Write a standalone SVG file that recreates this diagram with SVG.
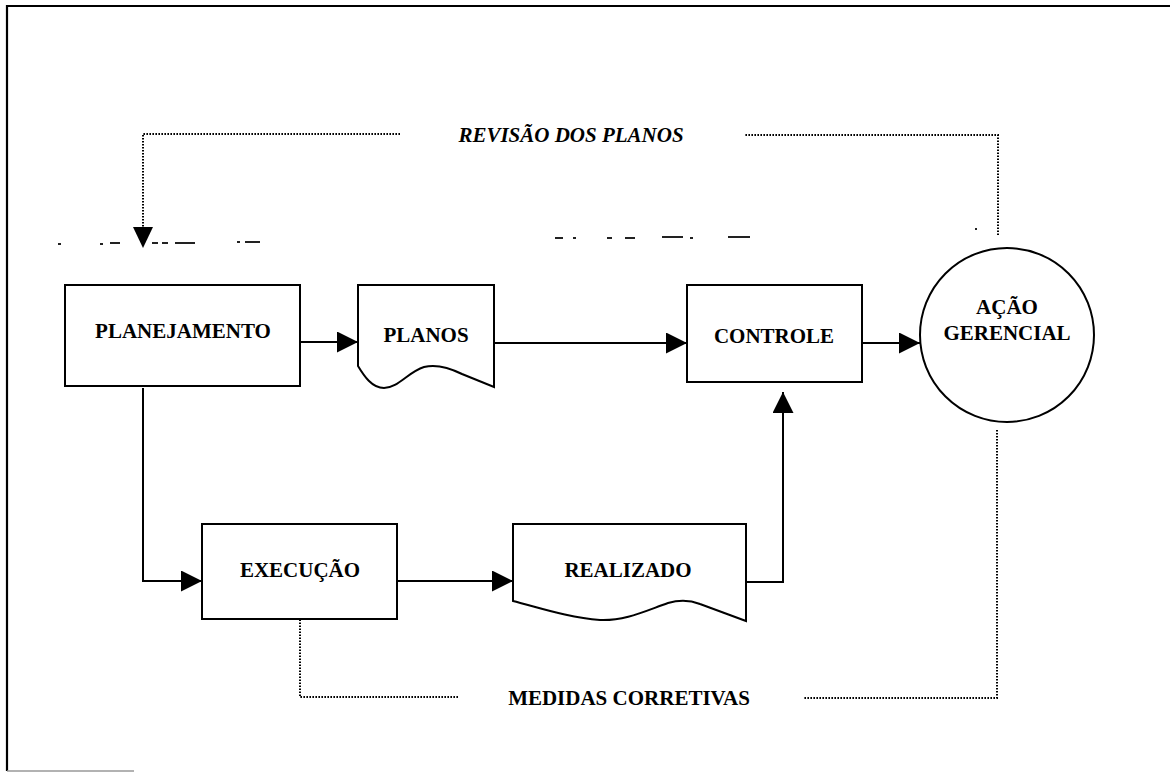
<svg xmlns="http://www.w3.org/2000/svg" width="1170" height="772" viewBox="0 0 1170 772">
  <style>
    .box { fill: #fff; stroke: #000; stroke-width: 2; }
    .lbl { font-family: "Liberation Serif", "Times New Roman", serif; font-weight: bold; font-size: 21px; fill: #000; text-anchor: middle; }
    .it { font-style: italic; }
    .flow { fill: none; stroke: #000; stroke-width: 2; }
    .dot { fill: none; stroke: #000; stroke-width: 2; stroke-dasharray: 1.6 1.4; }
    .faint { fill: none; stroke: #222; stroke-width: 2; }
  </style>
  <defs>
    <marker id="arrow" markerUnits="userSpaceOnUse" markerWidth="21" markerHeight="21" refX="21" refY="10.5" orient="auto">
      <path d="M0,0 L21,10.5 L0,21 Z" fill="#000"/>
    </marker>
  </defs>

  <rect width="1170" height="772" fill="#fff"/>

  <!-- frame -->
  <g id="frame">
    <path d="M7,771 V6 H1170" fill="none" stroke="#000" stroke-width="2.2"/>
    <path d="M7,771 H134" fill="none" stroke="#999" stroke-width="1.5"/>
  </g>

  <!-- broken guide line under the revision loop -->
  <g id="guide" class="faint">
    <path d="M58,244 h3 M100,244 h3 M110,243 h10 M152,243 h6 M162,243 h6 M175,243 h20 M237,242 h3 M245,242 h15"/>
    <path d="M555,238 h8 M573,238 h3 M607,238 h5 M625,238 h10 M662,237 h21 M690,238 h3 M728,237 h22 M975,229 h2"/>
  </g>

  <!-- connectors -->
  <g id="connectors">
    <path class="flow" d="M300,342 H358" marker-end="url(#arrow)"/>
    <path class="flow" d="M494,343 H687" marker-end="url(#arrow)"/>
    <path class="flow" d="M862,343 H920" marker-end="url(#arrow)"/>
    <path class="flow" d="M143,388 V581 H202" marker-end="url(#arrow)"/>
    <path class="flow" d="M397,581 H513" marker-end="url(#arrow)"/>
    <path class="flow" d="M746,582 H783 V392" marker-end="url(#arrow)"/>
    <!-- revision loop -->
    <path class="dot" d="M998,235 V135 H745"/>
    <path class="dot" d="M400,134 H143 V228"/>
    <path d="M133,227 L153,227 L143,248 Z" fill="#000"/>
    <!-- corrective measures loop -->
    <path class="dot" d="M997,430 V698 H803"/>
    <path class="dot" d="M458,697 H300 V620"/>
  </g>

  <!-- loop labels -->
  <g id="label-revisao">
    <text class="lbl it" x="571" y="142">REVISÃO DOS PLANOS</text>
  </g>
  <g id="label-medidas">
    <text class="lbl" x="629" y="705">MEDIDAS CORRETIVAS</text>
  </g>

  <g id="planejamento">
    <rect class="box" x="65" y="285" width="235" height="101"/>
    <text class="lbl" x="183" y="338">PLANEJAMENTO</text>
  </g>

  <g id="planos">
    <path class="box" d="M358,285 H494 V387 L462,374 C448,367 436,364 424,367 C408,372 398,388 384,388 C372,388 364,376 358,366 Z"/>
    <text class="lbl" x="426" y="342">PLANOS</text>
  </g>

  <g id="controle">
    <rect class="box" x="687" y="285" width="175" height="97"/>
    <text class="lbl" x="774" y="343">CONTROLE</text>
  </g>

  <g id="acao-gerencial">
    <circle class="box" cx="1007" cy="335" r="87"/>
    <text class="lbl" x="1007" y="314">AÇÃO</text>
    <text class="lbl" x="1007" y="340">GERENCIAL</text>
  </g>

  <g id="execucao">
    <rect class="box" x="202" y="524" width="195" height="95"/>
    <text class="lbl" x="300" y="577">EXECUÇÃO</text>
  </g>

  <g id="realizado">
    <path class="box" d="M513,524 H746 V621 L700,604 C690,600 678,600 668,603 C645,611 625,621 600,620 C570,618 540,608 513,601 Z"/>
    <text class="lbl" x="628" y="577">REALIZADO</text>
  </g>
</svg>
